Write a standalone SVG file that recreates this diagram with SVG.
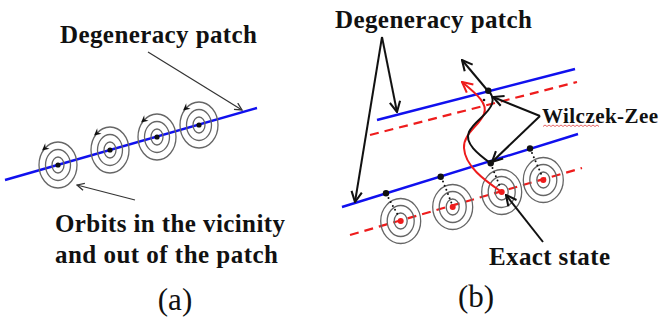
<svg xmlns="http://www.w3.org/2000/svg" width="661" height="322" viewBox="0 0 661 322">
<defs>
<style>
.lbl{font-family:"Liberation Serif","Times New Roman",serif;font-weight:bold;font-size:25px;fill:#111}
.cap{font-family:"Liberation Serif","Times New Roman",serif;font-size:31px;fill:#111}
.ring{fill:none;stroke:#666;stroke-width:1.3}
.blue{stroke:#1010ee;stroke-width:2.4;fill:none}
.reddash{stroke:#ee1c1c;stroke-width:2.2;fill:none;stroke-dasharray:9 6}
.thin{stroke:#333;stroke-width:1.2;fill:none}
.blk{stroke:#111;stroke-width:2;fill:none}
.dots{stroke:#111;stroke-width:2;stroke-linecap:round;stroke-dasharray:0 4.5;fill:none}
</style>
<marker id="aThin" viewBox="0 0 10 10" refX="9" refY="5" markerWidth="9" markerHeight="9" markerUnits="userSpaceOnUse" orient="auto">
<path d="M1,1 L9,5 L1,9" fill="none" stroke="#333" stroke-width="1.4"/>
</marker>
<marker id="aBlk" viewBox="0 0 10 10" refX="9" refY="5" markerWidth="13" markerHeight="13" markerUnits="userSpaceOnUse" orient="auto">
<path d="M1,1 L9,5 L1,9" fill="none" stroke="#111" stroke-width="1.6"/>
</marker>
<marker id="aRed" viewBox="0 0 10 10" refX="9" refY="5" markerWidth="13" markerHeight="13" markerUnits="userSpaceOnUse" orient="auto">
<path d="M1,1 L9,5 L1,9" fill="none" stroke="#ee1c1c" stroke-width="1.6"/>
</marker>
<g id="orbitA">
<ellipse class="ring" cx="0" cy="0" rx="19" ry="23"/>
<ellipse class="ring" cx="0" cy="0" rx="12.5" ry="15.5"/>
<ellipse class="ring" cx="0" cy="0" rx="6" ry="8"/>
<path d="M-16,-14.5 L-12.8,-21.7 L-12.5,-17.4 L-8.4,-16.3 Z" fill="#111"/>
<circle cx="0" cy="0" r="2.6" fill="#111"/>
</g>
<g id="orbitB">
<ellipse class="ring" cx="0" cy="0" rx="20" ry="22.5"/>
<ellipse class="ring" cx="0" cy="0" rx="13.5" ry="15.5"/>
<ellipse class="ring" cx="0" cy="0" rx="6.5" ry="8"/>
</g>
</defs>
<rect width="661" height="322" fill="#fff"/>

<!-- Panel (a) -->
<g id="patchA">
<line class="blue" x1="5" y1="180" x2="257" y2="108"/>
</g>
<g id="orbitsA">
<use href="#orbitA" x="58" y="165"/>
<use href="#orbitA" x="110" y="150"/>
<use href="#orbitA" x="157" y="137"/>
<use href="#orbitA" x="199" y="125"/>
</g>
<g id="labelDegA"><text class="lbl" x="60" y="43" textLength="197">Degeneracy patch</text></g>
<g id="labelOrbits">
<text class="lbl" x="55" y="232" textLength="230">Orbits in the vicinity</text>
<text class="lbl" x="55" y="263" textLength="223">and out of the patch</text>
</g>
<g id="capA"><text class="cap" x="175" y="310" text-anchor="middle">(a)</text></g>

<!-- Panel (b) -->
<g id="patchB">
<line class="blue" x1="377" y1="120" x2="575" y2="69"/>
<line class="reddash" x1="370" y1="135" x2="577" y2="82"/>
<line class="blue" x1="342" y1="207" x2="578" y2="134"/>
<line class="reddash" x1="350" y1="235" x2="582" y2="168"/>
</g>
<g id="orbitsB">
<use href="#orbitB" x="400.7" y="221"/>
<use href="#orbitB" x="452.7" y="207"/>
<use href="#orbitB" x="501.7" y="192"/>
<use href="#orbitB" x="543.3" y="180"/>
<line class="dots" x1="388.5" y1="198" x2="399" y2="217"/>
<line class="dots" x1="443" y1="181.5" x2="451.5" y2="203"/>
<line class="dots" x1="492.5" y1="168" x2="500.5" y2="188"/>
<line class="dots" x1="532" y1="153" x2="542" y2="176"/>
<circle cx="386" cy="193.3" r="3.2" fill="#111"/>
<circle cx="440.7" cy="176.7" r="3.2" fill="#111"/>
<circle cx="490.7" cy="163.3" r="3.2" fill="#111"/>
<circle cx="530" cy="148.5" r="3.2" fill="#111"/>
<circle cx="400.7" cy="221" r="3" fill="#ee1c1c"/>
<circle cx="452.7" cy="207" r="3" fill="#ee1c1c"/>
<circle cx="501.7" cy="192" r="3" fill="#ee1c1c"/>
<circle cx="543.3" cy="180" r="3" fill="#ee1c1c"/>
</g>
<g id="paths">
<path d="M501.7,192 C484,180 465,166 464,148 C463,134 479,126 484,114 C488,104 478,95 462,82" stroke="#ee1c1c" stroke-width="2" fill="none" marker-end="url(#aRed)"/>
<path class="blk" d="M490.7,163.3 C478,154 464,143 469,132 C474,121 488,115 492,104 C494,98 491,93 488,91"/>
<line class="blk" x1="488" y1="91" x2="462" y2="60" marker-end="url(#aBlk)"/>
<circle cx="488.3" cy="90.7" r="3.2" fill="#111"/>
<circle cx="484" cy="100" r="1.3" fill="#111"/>
</g>
<g id="labelDegB"><text class="lbl" x="335" y="28" textLength="197">Degeneracy patch</text></g>
<g id="labelWZ">
<text class="lbl" x="542" y="123" style="font-size:21px" textLength="116">Wilczek-Zee</text>
<path d="M543,126.5 l2,-1.5 l2,1.5 l2,-1.5 l2,1.5 l2,-1.5 l2,1.5 l2,-1.5 l2,1.5 l2,-1.5 l2,1.5 l2,-1.5 l2,1.5 l2,-1.5 l2,1.5 l2,-1.5 l2,1.5 l2,-1.5 l2,1.5 l2,-1.5 l2,1.5 l2,-1.5 l2,1.5 l2,-1.5 l2,1.5 l2,-1.5 l2,1.5 l2,-1.5 l2,1.5" fill="none" stroke="#e04040" stroke-width="0.8"/>
</g>
<g id="labelExact"><text class="lbl" x="489" y="265" textLength="121">Exact state</text></g>
<g id="capB"><text class="cap" x="476" y="307" text-anchor="middle">(b)</text></g>

<!-- Connectors -->
<g id="connectors">
<line class="thin" x1="148" y1="52" x2="242" y2="110" marker-end="url(#aThin)"/>
<line class="thin" x1="135" y1="200" x2="77" y2="185" marker-end="url(#aThin)"/>
<line class="blk" x1="382" y1="37" x2="355" y2="202" marker-end="url(#aBlk)"/>
<line class="blk" x1="382" y1="37" x2="397" y2="112" marker-end="url(#aBlk)"/>
<line class="blk" x1="540" y1="116" x2="493" y2="97" marker-end="url(#aBlk)"/>
<line class="blk" x1="540" y1="116" x2="492" y2="162" marker-end="url(#aBlk)"/>
<line class="blk" x1="543" y1="242" x2="506" y2="195" marker-end="url(#aBlk)"/>
</g>
</svg>
